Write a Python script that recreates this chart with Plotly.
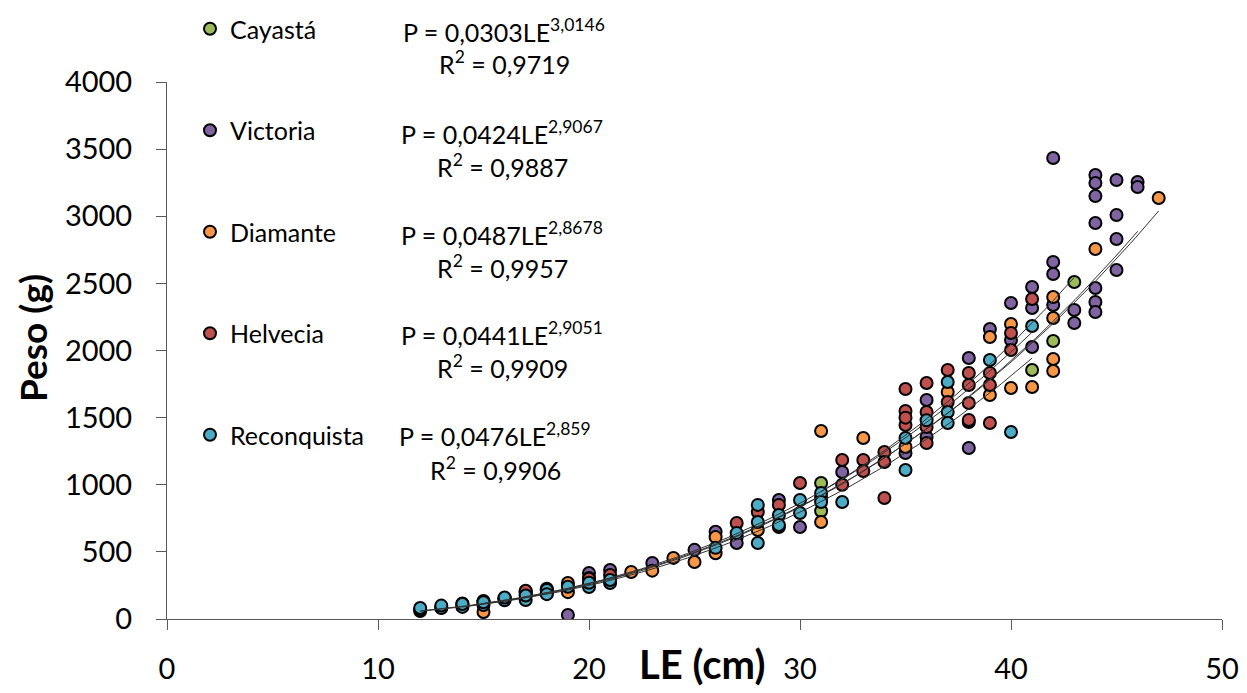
import numpy as np
import plotly.graph_objects as go

# ---------------- data ----------------
series_names = ["Cayastá", "Victoria", "Diamante", "Helvecia", "Reconquista"]
series_colors = ["#9BBB59", "#8064A2", "#F79646", "#C0504D", "#4BACC6"]

cay_x = [31, 31, 41, 42, 43]
cay_y = [1013, 804, 1855, 2071, 2510]

vic_x = [14, 15, 16, 17, 18, 19, 20, 20, 21, 23, 25, 26, 27, 27, 29, 29, 30, 32, 35, 36, 36,
         38, 38, 38, 39, 40, 40, 41, 41, 41, 42, 42, 42, 42, 43, 43,
         44, 44, 44, 44, 44, 44, 44, 45, 45, 45, 45, 46, 46]
vic_y = [115, 135, 150, 200, 215, 30, 343, 305, 365, 417, 515, 650, 610, 566, 886, 685, 685, 1095, 1236, 1631, 1356,
         1944, 1467, 1274, 2160, 2354, 2078, 2473, 2317, 2026, 3434, 2659, 2570, 2339, 2302, 2205,
         3307, 3248, 3151, 2950, 2466, 2361, 2287, 3270, 3009, 2830, 2600, 3255, 3218]

dia_x = [15, 16, 17, 19, 19, 22, 23, 24, 25, 26, 26, 28, 31, 31, 33, 35, 37, 39, 39, 40, 40, 41,
         42, 42, 42, 42, 44, 47]
dia_y = [52, 155, 195, 268, 200, 350, 360, 455, 425, 610, 490, 663, 1400, 722, 1348, 1281, 1691, 2100, 1669, 2197, 1721, 1728,
         2399, 2242, 1937, 1847, 2756, 3136]

hel_x = [12, 13, 14, 15, 16, 17, 17, 18, 18, 20, 21, 27, 28, 29, 30, 31, 32, 32, 33, 33, 34, 34, 34,
         35, 35, 35, 35, 36, 36, 36, 36, 37, 37, 38, 38, 38, 38, 39, 39, 39, 40, 40, 41]
hel_y = [60, 85, 105, 125, 150, 180, 210, 190, 225, 300, 328, 715, 797, 850, 1013, 900, 1184, 1000, 1184, 1102, 1244, 1169, 901,
         1713, 1549, 1445, 1500, 1758, 1542, 1430, 1311, 1855, 1616, 1832, 1743, 1609, 1482, 1832, 1743, 1460, 2130, 2004, 2384]

rec_x = [12, 12, 13, 13, 14, 14, 15, 15, 16, 16, 17, 17, 18, 18, 19, 20, 20, 21, 21, 26, 27, 28, 28, 28,
         29, 29, 30, 30, 31, 31, 32, 35, 35, 36, 37, 37, 37, 39, 40, 41]
rec_y = [70, 82, 82, 100, 90, 112, 104, 125, 140, 160, 141, 175, 216, 185, 240, 238, 270, 268, 290, 530, 640, 850, 722, 566,
         775, 700, 886, 790, 938, 872, 872, 1348, 1110, 1480, 1765, 1542, 1460, 1929, 1393, 2182]

series_x = [cay_x, vic_x, dia_x, hel_x, rec_x]
series_y = [cay_y, vic_y, dia_y, hel_y, rec_y]

# power fits P = a * LE^b
fit_a = [0.0303, 0.0424, 0.0487, 0.0441, 0.0476]
fit_b = [3.0146, 2.9067, 2.8678, 2.9051, 2.859]
fit_eq = ["P = 0,0303LE<sup>3,0146</sup>", "P = 0,0424LE<sup>2,9067</sup>", "P = 0,0487LE<sup>2,8678</sup>",
          "P = 0,0441LE<sup>2,9051</sup>", "P = 0,0476LE<sup>2,859</sup>"]
fit_r2 = ["R<sup>2</sup> = 0,9719", "R<sup>2</sup> = 0,9887", "R<sup>2</sup> = 0,9957",
          "R<sup>2</sup> = 0,9909", "R<sup>2</sup> = 0,9906"]

x_range = [0, 50]
y_range = [0, 4000]
x_ticks = [0, 10, 20, 30, 40, 50]
y_ticks = [0, 500, 1000, 1500, 2000, 2500, 3000, 3500, 4000]

# ---------------- layout geometry ----------------
# page body has an 8px margin, so the figure is drawn 8px in from the window corner
OFF = 8
W, H = 1247 - OFF, 693 - OFF
ML, MR, MT, MB = 167 - OFF, 25, 82 - OFF, 74
# plot area in window pixels
PL, PB = 167, 619
PW, PH = 1222 - 167, 619 - 82


def px(xs):
    return (xs - PL) / PW


def py(ys):
    return (PB - ys) / PH


FONT = "Lato, 'Open Sans', sans-serif"

fig = go.Figure()

for i, name in enumerate(series_names):
    fig.add_trace(go.Scatter(
        x=series_x[i], y=series_y[i], mode="markers", name=name,
        legendgroup="g%d" % i,
        marker=dict(size=12, color=series_colors[i], line=dict(color="black", width=2)),
    ))

for i, name in enumerate(series_names):
    xs = np.linspace(min(series_x[i]), max(series_x[i]), 120)
    ys = fit_a[i] * xs ** fit_b[i]
    fig.add_trace(go.Scatter(
        x=xs, y=ys, mode="lines", showlegend=False, hoverinfo="skip",
        line=dict(color="#333333", width=1),
    ))

annotations = []
eq_x = [504, 502, 502, 502, 495]
eq_y1 = [30, 133, 233, 333, 435]
for i in range(5):
    annotations.append(dict(text=fit_eq[i], x=px(eq_x[i]), y=py(eq_y1[i]), xref="paper", yref="paper",
                            xanchor="center", yanchor="middle", showarrow=False,
                            font=dict(family=FONT, size=25, color="black")))
    annotations.append(dict(text=fit_r2[i], x=px(eq_x[i]), y=py(eq_y1[i] + 33), xref="paper", yref="paper",
                            xanchor="center", yanchor="middle", showarrow=False,
                            font=dict(family=FONT, size=25, color="black")))

annotations.append(dict(text="<b>Peso (g)</b>", x=px(32), y=py(338), xref="paper", yref="paper",
                        xanchor="center", yanchor="middle", textangle=-90, showarrow=False,
                        font=dict(family=FONT, size=37, color="black")))
annotations.append(dict(text="<b>LE (cm)</b>", x=px(702), y=py(664), xref="paper", yref="paper",
                        xanchor="center", yanchor="middle", showarrow=False,
                        font=dict(family=FONT, size=40, color="black")))

axis_common = dict(showgrid=False, zeroline=False, showline=True, linecolor="#595959", linewidth=1,
                   ticks="outside", ticklen=10, tickcolor="#595959", tickwidth=1, automargin=False,
                   tickfont=dict(family=FONT, size=29, color="black"))

fig.update_layout(
    width=W, height=H,
    margin=dict(l=ML, r=MR, t=MT, b=MB, autoexpand=False),
    paper_bgcolor="white", plot_bgcolor="white",
    xaxis=dict(range=x_range, tickvals=x_ticks, ticklabelstandoff=14, **axis_common),
    yaxis=dict(range=y_range, tickvals=y_ticks, ticklabelstandoff=18, **axis_common),
    legend=dict(x=px(190), y=py(6), xanchor="left", yanchor="top", bgcolor="rgba(0,0,0,0)",
                font=dict(family=FONT, size=25, color="black"), tracegroupgap=66,
                itemsizing="constant", maxheight=1000),
    annotations=annotations,
    showlegend=True,
)

fig.write_html("out.html")
